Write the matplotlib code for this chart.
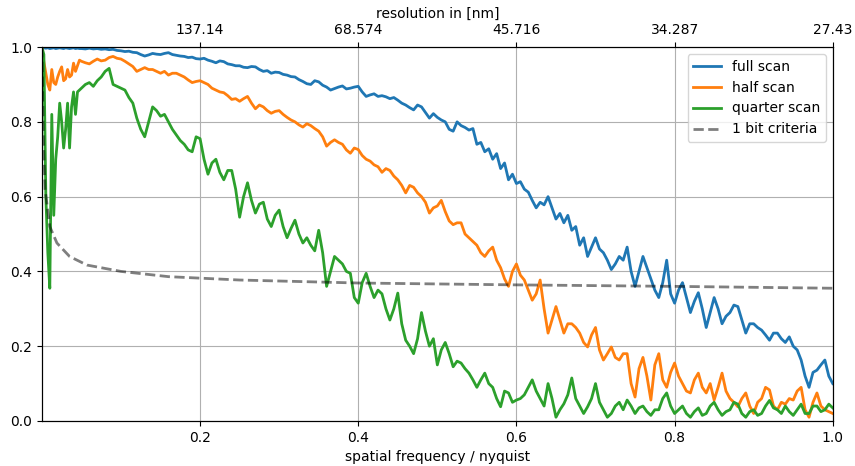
import numpy as np
import matplotlib
matplotlib.use('Agg')
from matplotlib import pyplot as plt

# spatial frequency grid (fraction of nyquist), finer near zero
freq = np.concatenate([np.arange(0, 0.05, 0.0025), np.arange(0.05, 1.0001, 0.005)])

full_scan = [
    1.0, 0.998, 0.997, 0.998, 0.996, 0.997, 0.998, 0.996, 0.997, 0.998,
    0.997, 0.996, 0.998, 0.997, 0.996, 0.997, 0.998, 0.996, 0.997, 0.996,
    0.996, 0.995, 0.997, 0.995, 0.996, 0.994, 0.995, 0.993, 0.994, 0.991,
    0.99, 0.988, 0.989, 0.986, 0.985, 0.98, 0.976, 0.979, 0.983, 0.981,
    0.98, 0.983, 0.985, 0.98, 0.978, 0.976, 0.975, 0.972, 0.973, 0.969,
    0.968, 0.970, 0.965, 0.962, 0.958, 0.963, 0.961, 0.955, 0.953, 0.950,
    0.950, 0.946, 0.945, 0.948, 0.947, 0.940, 0.935, 0.937, 0.930, 0.933,
    0.932, 0.927, 0.925, 0.921, 0.920, 0.913, 0.908, 0.902, 0.900, 0.910,
    0.907, 0.898, 0.893, 0.885, 0.889, 0.893, 0.896, 0.888, 0.890, 0.893,
    0.895, 0.880, 0.868, 0.872, 0.875, 0.868, 0.870, 0.867, 0.862, 0.865,
    0.858, 0.85, 0.845, 0.838, 0.832, 0.845, 0.84, 0.825, 0.81, 0.822,
    0.812, 0.805, 0.80, 0.78, 0.775, 0.80, 0.79, 0.785, 0.778, 0.782,
    0.74, 0.745, 0.72, 0.728, 0.70, 0.715, 0.675, 0.69, 0.645, 0.66,
    0.635, 0.64, 0.62, 0.612, 0.59, 0.57, 0.585, 0.578, 0.60, 0.57,
    0.54, 0.555, 0.53, 0.55, 0.51, 0.52, 0.47, 0.49, 0.44, 0.465,
    0.49, 0.46, 0.45, 0.43, 0.405, 0.42, 0.44, 0.43, 0.465, 0.40,
    0.36, 0.40, 0.44, 0.41, 0.38, 0.35, 0.33, 0.37, 0.43, 0.34,
    0.315, 0.35, 0.37, 0.33, 0.29, 0.32, 0.343, 0.30, 0.25, 0.29,
    0.33, 0.30, 0.26, 0.28, 0.29, 0.31, 0.306, 0.27, 0.235, 0.26,
    0.26, 0.25, 0.243, 0.23, 0.216, 0.235, 0.235, 0.22, 0.21, 0.225,
    0.20, 0.19, 0.163, 0.12, 0.09, 0.13, 0.136, 0.15, 0.163, 0.12,
    0.10]

half_scan = [
    1.0, 0.96, 0.93, 0.90, 0.885, 0.94, 0.905, 0.90, 0.92, 0.935,
    0.947, 0.91, 0.915, 0.94, 0.92, 0.925, 0.957, 0.935, 0.95, 0.965,
    0.962, 0.958, 0.955, 0.962, 0.968, 0.963, 0.965, 0.972, 0.975, 0.970,
    0.968, 0.962, 0.955, 0.948, 0.935, 0.94, 0.945, 0.94, 0.94, 0.935,
    0.93, 0.935, 0.925, 0.93, 0.93, 0.925, 0.92, 0.912, 0.905, 0.908,
    0.91, 0.905, 0.90, 0.89, 0.885, 0.88, 0.878, 0.87, 0.86, 0.862,
    0.855, 0.862, 0.868, 0.85, 0.835, 0.845, 0.84, 0.83, 0.823, 0.828,
    0.83, 0.82, 0.812, 0.805, 0.80, 0.792, 0.786, 0.795, 0.79, 0.782,
    0.775, 0.76, 0.735, 0.745, 0.752, 0.745, 0.74, 0.725, 0.716, 0.73,
    0.726, 0.71, 0.70, 0.695, 0.685, 0.68, 0.665, 0.675, 0.67, 0.655,
    0.645, 0.63, 0.61, 0.63, 0.625, 0.61, 0.60, 0.585, 0.556, 0.57,
    0.575, 0.59, 0.56, 0.535, 0.525, 0.53, 0.53, 0.50, 0.49, 0.48,
    0.47, 0.45, 0.44, 0.455, 0.465, 0.43, 0.41, 0.38, 0.36, 0.40,
    0.42, 0.39, 0.377, 0.35, 0.323, 0.34, 0.377, 0.30, 0.235, 0.27,
    0.306, 0.27, 0.235, 0.26, 0.26, 0.25, 0.235, 0.21, 0.198, 0.23,
    0.25, 0.19, 0.163, 0.18, 0.198, 0.17, 0.163, 0.18, 0.18, 0.10,
    0.064, 0.14, 0.17, 0.12, 0.056, 0.15, 0.18, 0.11, 0.09, 0.13,
    0.155, 0.12, 0.10, 0.08, 0.075, 0.11, 0.128, 0.09, 0.075, 0.10,
    0.056, 0.09, 0.128, 0.08, 0.06, 0.05, 0.038, 0.06, 0.075, 0.04,
    0.02, 0.05, 0.06, 0.09, 0.083, 0.04, 0.03, 0.05, 0.045, 0.06,
    0.056, 0.08, 0.09, 0.03, 0.01, 0.05, 0.075, 0.04, 0.03, 0.025,
    0.02]

quarter_scan = [
    1.0, 0.98, 0.60, 0.45, 0.355, 0.82, 0.55, 0.70, 0.76, 0.85,
    0.80, 0.73, 0.78, 0.85, 0.73, 0.84, 0.88, 0.82, 0.88, 0.885,
    0.89, 0.90, 0.905, 0.895, 0.91, 0.92, 0.935, 0.943, 0.90, 0.895,
    0.89, 0.885, 0.865, 0.85, 0.81, 0.78, 0.76, 0.80, 0.84, 0.83,
    0.815, 0.82, 0.80, 0.78, 0.765, 0.75, 0.74, 0.725, 0.72, 0.76,
    0.755, 0.70, 0.66, 0.69, 0.70, 0.665, 0.645, 0.67, 0.67, 0.62,
    0.545, 0.60, 0.637, 0.59, 0.556, 0.58, 0.585, 0.54, 0.52, 0.55,
    0.564, 0.52, 0.49, 0.515, 0.537, 0.50, 0.476, 0.49, 0.47, 0.455,
    0.51, 0.45, 0.36, 0.40, 0.44, 0.43, 0.42, 0.40, 0.395, 0.33,
    0.315, 0.37, 0.395, 0.36, 0.33, 0.35, 0.34, 0.30, 0.27, 0.30,
    0.342, 0.26, 0.216, 0.20, 0.18, 0.22, 0.29, 0.24, 0.20, 0.22,
    0.15, 0.19, 0.21, 0.18, 0.145, 0.16, 0.155, 0.14, 0.128, 0.11,
    0.09, 0.11, 0.128, 0.10, 0.09, 0.06, 0.038, 0.08, 0.075, 0.05,
    0.056, 0.06, 0.07, 0.09, 0.11, 0.08, 0.06, 0.04, 0.10, 0.06,
    0.01, 0.03, 0.046, 0.07, 0.115, 0.06, 0.04, 0.02, 0.038, 0.06,
    0.10, 0.05, 0.03, 0.01, 0.02, 0.04, 0.05, 0.03, 0.056, 0.04,
    0.02, 0.035, 0.04, 0.025, 0.015, 0.03, 0.03, 0.06, 0.075, 0.04,
    0.02, 0.03, 0.04, 0.02, 0.01, 0.025, 0.035, 0.015, 0.02, 0.04,
    0.05, 0.03, 0.015, 0.025, 0.03, 0.05, 0.045, 0.02, 0.01, 0.025,
    0.03, 0.015, 0.02, 0.04, 0.055, 0.035, 0.03, 0.02, 0.04, 0.025,
    0.015, 0.03, 0.045, 0.02, 0.02, 0.04, 0.04, 0.025, 0.03, 0.045,
    0.035]

# 1 bit threshold curve
bit_freq = [0.0, 0.002, 0.004, 0.01, 0.019, 0.035, 0.057, 0.1, 0.16, 0.25, 0.4, 0.6, 0.8, 1.0]
bit_crit = [1.0, 0.75, 0.62, 0.52, 0.476, 0.44, 0.417, 0.40, 0.386, 0.377, 0.369, 0.364, 0.36, 0.355]

res_ticks = [0.2, 0.4, 0.6, 0.8, 1.0]
res_labels = ['137.14', '68.574', '45.716', '34.287', '27.43']

fig = plt.figure(figsize=(8.55, 4.66), dpi=100)
ax = fig.add_axes([0.049, 0.0966, 0.925, 0.8024])

ax.plot(freq, full_scan, label='full scan', lw=2)
ax.plot(freq, half_scan, label='half scan', lw=2)
ax.plot(freq, quarter_scan, label='quarter scan', lw=2)
ax.plot(bit_freq, bit_crit, '--', color='k', alpha=0.5, lw=2, label='1 bit criteria')

ax.set_xlim(0, 1)
ax.set_ylim(0, 1)
ax.set_xticks([0.2, 0.4, 0.6, 0.8, 1.0])
ax.set_xlabel('spatial frequency / nyquist')
ax.grid(True)
ax.legend(loc='upper right')

ax2 = ax.twiny()
ax2.set_xlim(ax.get_xlim())
ax2.set_xticks(res_ticks)
ax2.set_xticklabels(res_labels)
ax2.set_xlabel('resolution in [nm]')

plt.savefig('out.png', dpi=100)
